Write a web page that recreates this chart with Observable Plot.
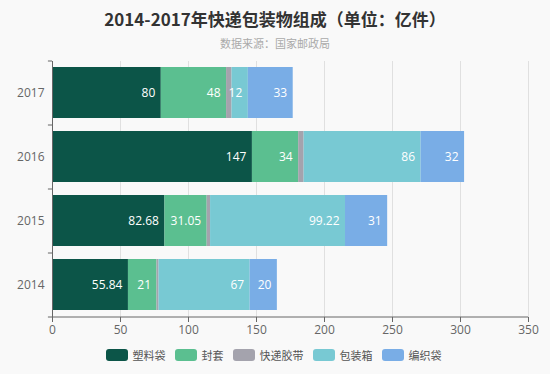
<!DOCTYPE html>
<html>
<head>
<meta charset="utf-8">
<script src="https://cdn.jsdelivr.net/npm/d3@7"></script>
<script src="https://cdn.jsdelivr.net/npm/@observablehq/plot@0.6"></script>
<style>
  html, body { margin: 0; padding: 0; background: #f9f9f9; }
  body { width: 550px; height: 374px; overflow: hidden; font-family: "Open Sans", "Noto Sans CJK SC", sans-serif; }
  #title { text-align: center; font-size: 17px; font-weight: bold; color: #333; height: 33px; line-height: 38px; font-family: "Noto Sans CJK SC", sans-serif; }
  #subtitle { text-align: center; font-size: 11px; color: #aaa; height: 22px; line-height: 20px; font-family: "Noto Sans CJK SC", sans-serif; }
  #legend { display: flex; justify-content: center; align-items: center; gap: 9px; font-size: 11px; color: #555; margin-top: 7px; font-family: "Noto Sans CJK SC", sans-serif; margin-left: -3px; }
  .item { display: flex; align-items: center; gap: 5px; }
  .sw { width: 22px; height: 12px; border-radius: 3px; display: inline-block; }
</style>
</head>
<body>
<div id="title">2014-2017年快递包装物组成（单位：亿件）</div>
<div id="subtitle">数据来源：国家邮政局</div>
<div id="chart"></div>
<div id="legend"></div>
<script>
const years = ["2017", "2016", "2015", "2014"];
const seriesNames = ["塑料袋", "封套", "快递胶带", "包装箱", "编织袋"];
const colors = ["#0c5548", "#5bbf90", "#a4a3ad", "#78c9d3", "#79ade6"];
const plastic = [80, 147, 82.68, 55.84];
const envelope = [48, 34, 31.05, 21];
const tape = [4, 4, 2.5, 1.5];
const boxes = [12, 86, 99.22, 67];
const woven = [33, 32, 31, 20];
const xTicks = [0, 50, 100, 150, 200, 250, 300, 350];

const seriesValues = [plastic, envelope, tape, boxes, woven];
const data = [];
seriesNames.forEach((s, si) => {
  years.forEach((y, yi) => {
    data.push({year: y, series: s, value: seriesValues[si][yi]});
  });
});

const chart = Plot.plot({
  width: 550,
  height: 285,
  marginTop: 6,
  marginBottom: 23,
  marginLeft: 52,
  marginRight: 22,
  style: {background: "transparent", fontFamily: "'Open Sans', 'Noto Sans CJK SC', sans-serif", fontSize: "12px"},
  x: {domain: [0, 350], ticks: xTicks},
  y: {domain: years, paddingInner: 0.2, paddingOuter: 0.1},
  color: {domain: seriesNames, range: colors},
  marks: [
    Plot.gridX(xTicks, {stroke: "#e0e0e0", strokeOpacity: 1}),
    Plot.barX(data, Plot.stackX({x: "value", y: "year", fill: "series", z: "series", order: seriesNames})),
    Plot.text(data, Plot.stackX2({
      x: "value", y: "year", z: "series", order: seriesNames,
      text: d => d.series === "快递胶带" ? null : String(d.value),
      fill: "white", textAnchor: "end", dx: -6, fontSize: 12
    })),
    Plot.ruleX([0], {stroke: "#666"}),
    Plot.ruleY(years, {y: d => d, dy: -32, x1: -3, x2: 0, stroke: "#666"}),
    Plot.ruleY(["2014"], {y: d => d, dy: 32, x1: -3, x2: 0, stroke: "#666"}),
    Plot.ruleY(["2014"], {y: d => d, dy: 32, x1: 0, x2: 350, stroke: "#666"}),
    Plot.axisX({ticks: xTicks, tickSize: 5, tickPadding: 3, stroke: "#666", color: "#666", label: null, tickFormat: d => String(d)}),
    Plot.axisY({tickSize: 0, tickPadding: 8, color: "#666", label: null})
  ]
});
document.getElementById("chart").appendChild(chart);

const legend = document.getElementById("legend");
seriesNames.forEach((s, i) => {
  const it = document.createElement("div");
  it.className = "item";
  it.innerHTML = `<span class="sw" style="background:${colors[i]}"></span><span>${s}</span>`;
  legend.appendChild(it);
});
</script>
</body>
</html>
